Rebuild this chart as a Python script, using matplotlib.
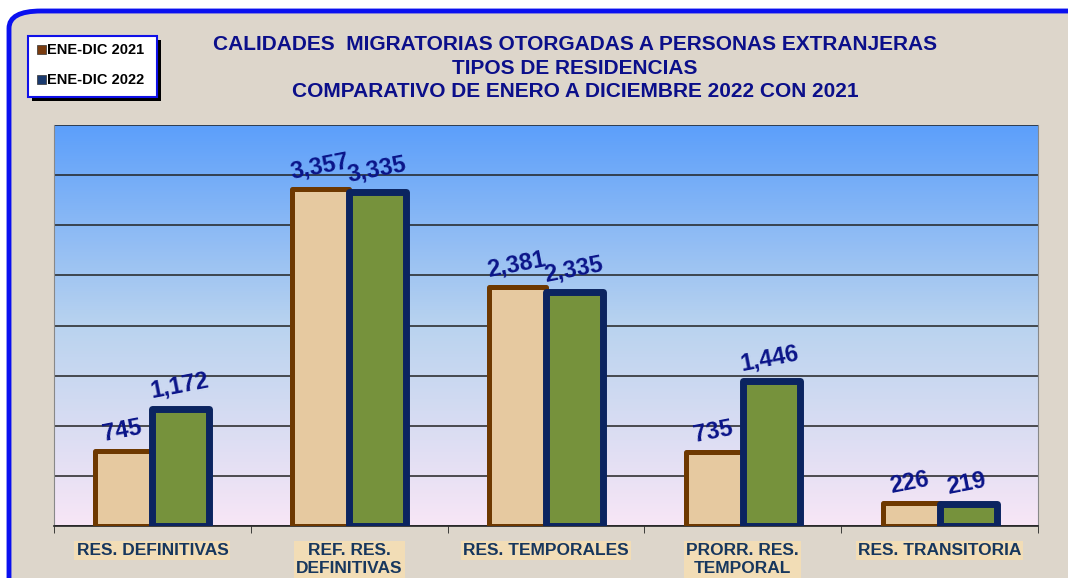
import numpy as np
import matplotlib.pyplot as plt
from matplotlib.patches import FancyBboxPatch, Rectangle
from matplotlib.colors import LinearSegmentedColormap

plt.rcParams['font.family'] = ['Liberation Sans', 'DejaVu Sans']

categorias = ['RES. DEFINITIVAS', 'REF. RES.\nDEFINITIVAS', 'RES. TEMPORALES',
              'PRORR. RES.\nTEMPORAL', 'RES. TRANSITORIA']
v2021 = [745, 3357, 2381, 735, 226]
v2022 = [1172, 3335, 2335, 1446, 219]
series = ['ENE-DIC 2021', 'ENE-DIC 2022']

titulo = ('CALIDADES  MIGRATORIAS OTORGADAS A PERSONAS EXTRANJERAS\n'
          'TIPOS DE RESIDENCIAS\n'
          'COMPARATIVO DE ENERO A DICIEMBRE 2022 CON 2021')

fig = plt.figure(figsize=(10.68, 5.78), dpi=100)
fig.patch.set_facecolor('white')

# marco redondeado de fondo
marco = FancyBboxPatch((9/1068, -0.05), 1.1, 1 - 11/578 + 0.05,
                       boxstyle='round,pad=0,rounding_size=0.03',
                       transform=fig.transFigure, facecolor='#DDD6CB',
                       edgecolor='#0A10F0', linewidth=3.5, zorder=0)
fig.patches.append(marco)

ax = fig.add_axes([54/1068, 52/578, 984/1068, 401/578])
ax.set_zorder(2)

# degradado del fondo del área de trazado
cmap = LinearSegmentedColormap.from_list('fondo', ['#F8E6F6', '#B9D3EF', '#5C9FFB'])
grad = np.linspace(0, 1, 256).reshape(-1, 1)
x = np.arange(len(categorias))
ax.imshow(grad, aspect='auto', cmap=cmap, origin='lower',
          extent=(-0.5, len(categorias) - 0.5, 0, 4000), zorder=0)

w = 0.29
off = 0.145
b1 = ax.bar(x - off, v2021, w, color='#E6C9A0', edgecolor='#6E3800',
            linewidth=3.6, zorder=3, label=series[0])
b2 = ax.bar(x + off, v2022, w, color='#76923C', edgecolor='#0B2460',
            linewidth=5, zorder=4, label=series[1])
for b in list(b1) + list(b2):
    b.set_joinstyle('round')

for bars, vals in ((b1, v2021), (b2, v2022)):
    for b, v in zip(bars, vals):
        ax.annotate(f'{v:,}', (b.get_x() + b.get_width() / 2, v),
                    xytext=(-1, 4), textcoords='offset points',
                    ha='center', va='bottom', rotation=11,
                    fontsize=17, fontweight='bold', color='#0A1489', zorder=6)

ax.set_xlim(-0.5, len(categorias) - 0.5)
ax.set_ylim(0, 4000)
ax.set_yticks(np.arange(0, 4001, 500))
ax.set_yticklabels([])
ax.tick_params(axis='y', length=0)
ax.yaxis.grid(True, color='#222222', linewidth=1.1, zorder=1)
ax.set_axisbelow(True)

ax.set_xticks(np.arange(len(categorias) + 1) - 0.5, minor=True)
ax.set_xticks(x)
ax.set_xticklabels(categorias, fontsize=12.5, fontweight='bold', color='#17375E',
                   linespacing=1.25)
for t in ax.get_xticklabels():
    t.set_bbox(dict(facecolor='#F2DDB6', edgecolor='none', pad=1.5))
ax.tick_params(axis='x', which='major', length=0, pad=12)
ax.tick_params(axis='x', which='minor', length=5, color='#222222')

ax.spines['top'].set_visible(False)
ax.spines['left'].set_color('#888888')
ax.spines['right'].set_color('#888888')
ax.spines['bottom'].set_color('#222222')
ax.spines['bottom'].set_linewidth(1.2)

fig.text(575/1068, 1 - 35/578, titulo, ha='center', va='top',
         fontsize=15, fontweight='bold', color='#0B0F8A', linespacing=1.3)

# leyenda con sombra
lx, ly, lw, lh = 28/1068, 1 - 97/578, 129/1068, 61/578
fig.patches.append(Rectangle((lx + 4/1068, ly - 4/578), lw, lh, transform=fig.transFigure,
                             facecolor='black', edgecolor='none', zorder=3))
fig.patches.append(Rectangle((lx, ly), lw, lh, transform=fig.transFigure,
                             facecolor='white', edgecolor='#1010E8', linewidth=1.5, zorder=4))
for i, (nom, col) in enumerate(zip(series, ['#7A3C10', '#1A3A6E'])):
    yy = 1 - (50 + i * 30) / 578
    fig.patches.append(Rectangle((37/1068, yy - 4/578), 9/1068, 9/578,
                                 transform=fig.transFigure, facecolor=col,
                                 edgecolor='#333333', linewidth=0.5, zorder=5))
    fig.text(47/1068, yy, nom, ha='left', va='center', fontsize=10.5,
             fontweight='bold', color='black', zorder=6)

fig.savefig('out.png', dpi=100)
